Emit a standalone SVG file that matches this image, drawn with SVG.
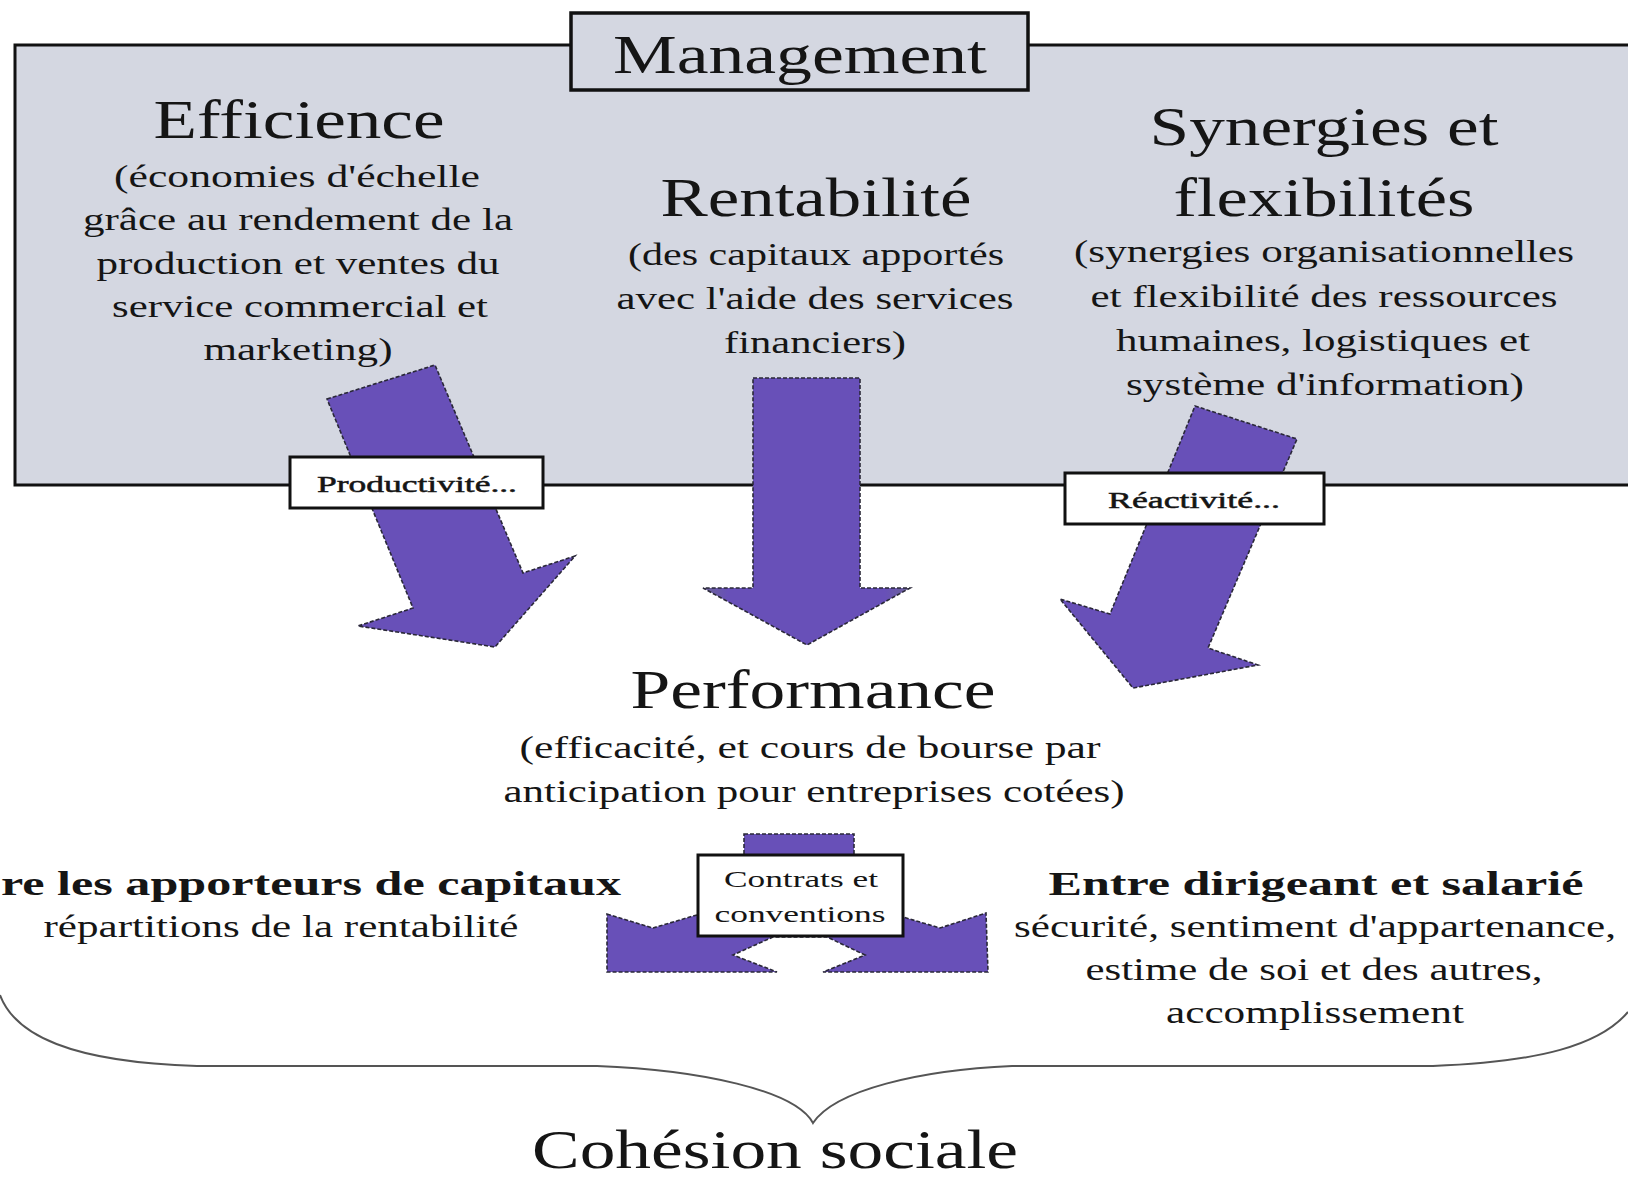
<svg xmlns="http://www.w3.org/2000/svg" width="1628" height="1179" viewBox="0 0 1628 1179" font-family="'Liberation Serif', Tinos, 'Times New Roman', Times, serif">
<defs>
<style>
text{font-family:'Liberation Serif',Tinos,'Times New Roman',Times,serif;fill:#151515;text-anchor:middle}
.h{font-size:54px}
.s{font-size:31px}
.b{font-size:34px;font-weight:bold}
.l{font-size:23px}
.arr{fill:#6850b8;stroke:#2a2838;stroke-width:1.6;stroke-dasharray:4 2}
.lab{fill:#fff;stroke:#111;stroke-width:3}
</style>
<linearGradient id="shaft" x1="0" x2="1" y1="0" y2="0">
<stop offset="0" stop-color="#6c6496"/>
<stop offset="0.12" stop-color="#6850b8"/>
<stop offset="0.88" stop-color="#6850b8"/>
<stop offset="1" stop-color="#6c6496"/>
</linearGradient>
</defs>
<rect width="1628" height="1179" fill="#fff"/>

<g id="management-panel">
<rect x="15" y="45" width="1640" height="440" fill="#d4d7e1" stroke="#111" stroke-width="3"/>
</g>

<g id="management">
<rect x="571" y="13" width="457" height="77" fill="#d4d7e1" stroke="#111" stroke-width="3.5"/>
<text class="h" x="800" y="73" textLength="374" lengthAdjust="spacingAndGlyphs">Management</text>
</g>

<g id="efficience">
<text class="h" x="299" y="138" font-size="56" textLength="291" lengthAdjust="spacingAndGlyphs">Efficience</text>
<text class="s" x="297" y="187" textLength="366" lengthAdjust="spacingAndGlyphs">(économies d'échelle</text>
<text class="s" x="298" y="230" textLength="430" lengthAdjust="spacingAndGlyphs">grâce au rendement de la</text>
<text class="s" x="298" y="274" textLength="403" lengthAdjust="spacingAndGlyphs">production et ventes du</text>
<text class="s" x="300" y="317" textLength="376" lengthAdjust="spacingAndGlyphs">service commercial et</text>
<text class="s" x="298" y="360" textLength="189" lengthAdjust="spacingAndGlyphs">marketing)</text>
</g>

<g id="rentabilite">
<text class="h" x="816" y="216" textLength="311" lengthAdjust="spacingAndGlyphs">Rentabilité</text>
<text class="s" x="816" y="265" textLength="376" lengthAdjust="spacingAndGlyphs">(des capitaux apportés</text>
<text class="s" x="815" y="309" textLength="397" lengthAdjust="spacingAndGlyphs">avec l'aide des services</text>
<text class="s" x="815" y="353" textLength="182" lengthAdjust="spacingAndGlyphs">financiers)</text>
</g>

<g id="synergies">
<text class="h" x="1324" y="145" font-size="56" textLength="349" lengthAdjust="spacingAndGlyphs">Synergies et</text>
<text class="h" x="1324" y="216" font-size="56" textLength="301" lengthAdjust="spacingAndGlyphs">flexibilités</text>
<text class="s" x="1324" y="262" textLength="500" lengthAdjust="spacingAndGlyphs">(synergies organisationnelles</text>
<text class="s" x="1324" y="307" textLength="467" lengthAdjust="spacingAndGlyphs">et flexibilité des ressources</text>
<text class="s" x="1323" y="351" textLength="414" lengthAdjust="spacingAndGlyphs">humaines, logistiques et</text>
<text class="s" x="1325" y="395" textLength="398" lengthAdjust="spacingAndGlyphs">système d'information)</text>
</g>

<g id="connectors">
<polygon class="arr" points="327,399 435,365 523,573 575,556 495,647 358,626 413,608"/>
<path d="M753,378 H860 V588 H910 L807,645 L703,588 H753 Z" fill="url(#shaft)" stroke="#2a2838" stroke-width="1.6" stroke-dasharray="4 2"/>
<polygon class="arr" points="1195,406 1297,439 1208,648 1258,665 1133,688 1060,599 1110,614"/>
<rect class="arr" x="744" y="834" width="110" height="26"/>
<path class="arr" d="M607,914 L653,928 L700,914 L700,895 L902,895 L903,917 L940,928 L986,913 L988,972 L823,972 L865,955 L827,937 L773,937 L733,955 L777,972 L607,972 Z"/>
<path d="M0,995 C15,1035 70,1062 197,1066 L597,1066 C700,1070 795,1090 813,1123 C835,1090 920,1070 1012,1066 L1433,1066 C1540,1062 1600,1045 1628,1012" fill="none" stroke="#555" stroke-width="2"/>
</g>

<g id="productivite">
<rect class="lab" x="290" y="457" width="253" height="51"/>
<text class="l" x="417" y="492" textLength="200" lengthAdjust="spacingAndGlyphs" stroke="#151515" stroke-width="0.5">Productivité...</text>
</g>

<g id="reactivite">
<rect class="lab" x="1065" y="473" width="259" height="51"/>
<text class="l" x="1194" y="508" textLength="172" lengthAdjust="spacingAndGlyphs" stroke="#151515" stroke-width="0.5">Réactivité...</text>
</g>

<g id="performance">
<text class="h" x="813" y="708" font-size="52" textLength="365" lengthAdjust="spacingAndGlyphs">Performance</text>
<text class="s" x="810" y="758" textLength="581" lengthAdjust="spacingAndGlyphs">(efficacité, et cours de bourse par</text>
<text class="s" x="814" y="802" textLength="621" lengthAdjust="spacingAndGlyphs">anticipation pour entreprises cotées)</text>
</g>

<g id="contrats">
<rect class="lab" x="698" y="855" width="205" height="81"/>
<text class="l" x="801" y="887" textLength="154" lengthAdjust="spacingAndGlyphs">Contrats et</text>
<text class="l" x="800" y="922" textLength="171" lengthAdjust="spacingAndGlyphs">conventions</text>
</g>

<g id="apporteurs">
<text class="b" x="1" y="895" style="text-anchor:start" textLength="620" lengthAdjust="spacingAndGlyphs">re les apporteurs de capitaux</text>
<text class="s" x="281" y="937" textLength="475" lengthAdjust="spacingAndGlyphs">répartitions de la rentabilité</text>
</g>

<g id="salarie">
<text class="b" x="1316" y="895" textLength="535" lengthAdjust="spacingAndGlyphs">Entre dirigeant et salarié</text>
<text class="s" x="1315" y="937" textLength="602" lengthAdjust="spacingAndGlyphs">sécurité, sentiment d'appartenance,</text>
<text class="s" x="1314" y="980" textLength="457" lengthAdjust="spacingAndGlyphs">estime de soi et des autres,</text>
<text class="s" x="1315" y="1023" textLength="298" lengthAdjust="spacingAndGlyphs">accomplissement</text>
</g>

<g id="cohesion">
<text class="h" x="775" y="1168" font-size="51" textLength="486" lengthAdjust="spacingAndGlyphs">Cohésion sociale</text>
</g>
</svg>
